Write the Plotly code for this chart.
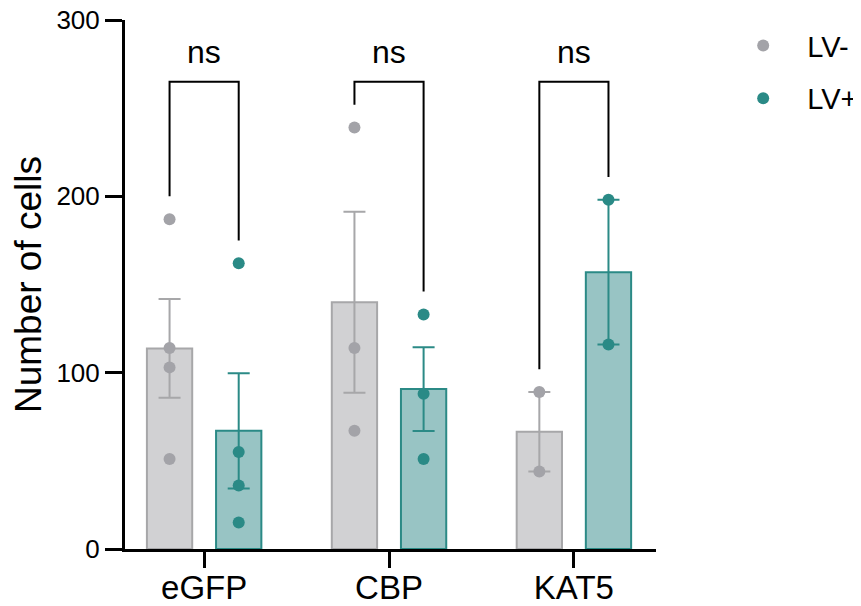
import numpy as np
import plotly.graph_objects as go

categories = ["eGFP", "CBP", "KAT5"]
series_names = ["LV-", "LV+"]
lv_minus = [[187, 114, 103, 51], [239, 114, 67], [89, 44]]
lv_plus = [[162, 55, 36, 15], [133, 88, 51], [198, 116]]
y_ticks = [0, 100, 200, 300]
sig_labels = ["ns", "ns", "ns"]

FONT = "Liberation Sans, Arial, Helvetica, sans-serif"
styles = [
    dict(fill="#d1d1d3", line="#a7a7a9", dot="#a3a3a8"),
    dict(fill="#98c4c4", line="#2b8a86", dot="#2a8a86"),
]
offsets = [-0.187, 0.187]
bar_w = 0.245

fig = go.Figure()
idx = np.arange(len(categories))
for s, (name, data) in enumerate(zip(series_names, [lv_minus, lv_plus])):
    means = [np.mean(v) for v in data]
    sems = [np.std(v, ddof=1) / np.sqrt(len(v)) for v in data]
    st = styles[s]
    fig.add_trace(go.Bar(
        x=idx + offsets[s], y=means, width=bar_w,
        marker=dict(color=st["fill"], line=dict(color=st["line"], width=2)),
        error_y=dict(type="data", array=sems, visible=True, color=st["line"], thickness=2, width=11),
        showlegend=False, hoverinfo="skip",
    ))
for s, (name, data) in enumerate(zip(series_names, [lv_minus, lv_plus])):
    xs, ys = [], []
    for i, vals in enumerate(data):
        for v in vals:
            xs.append(i + offsets[s])
            ys.append(v)
    fig.add_trace(go.Scatter(
        x=xs, y=ys, mode="markers", name=name, legendgroup=name,
        marker=dict(color=styles[s]["dot"], size=12, line=dict(width=0)),
    ))

# significance brackets
top = 265
for i in range(len(categories)):
    yl = max(lv_minus[i]) + 13
    yr = max(lv_plus[i]) + 13
    xl, xr = i + offsets[0], i + offsets[1]
    fig.add_trace(go.Scatter(
        x=[xl, xl, xr, xr], y=[yl, top, top, yr], mode="lines",
        line=dict(color="black", width=2), showlegend=False, hoverinfo="skip",
    ))
    fig.add_annotation(x=i, y=282, text=sig_labels[i], showarrow=False,
                       font=dict(size=32, color="black", family=FONT))

fig.update_layout(
    width=861, height=606,
    margin=dict(l=117, r=213, t=12, b=65, autoexpand=False),
    plot_bgcolor="white", paper_bgcolor="white",
    barmode="overlay",
    font=dict(family=FONT, color="black"),
    showlegend=True,
    legend=dict(
        xref="container", yref="container", x=0.826, y=0.98, xanchor="left", yanchor="top",
        font=dict(size=29, family=FONT), itemwidth=78, tracegroupgap=12,
        bgcolor="rgba(0,0,0,0)",
    ),
    xaxis=dict(
        range=[-0.428, 2.444], tickvals=list(idx), ticktext=categories,
        showline=True, linecolor="black", linewidth=3,
        ticks="outside", ticklen=16, tickwidth=3, tickcolor="black",
        tickfont=dict(size=33, family=FONT), showgrid=False, zeroline=False,
        ticklabelstandoff=-9, ticklabeloverflow="allow",
    ),
    yaxis=dict(
        range=[0, 300], tickvals=y_ticks,
        showline=True, linecolor="black", linewidth=3,
        ticks="outside", ticklen=17, tickwidth=3, tickcolor="black",
        tickfont=dict(size=26, family=FONT), showgrid=False, zeroline=False,
        ticklabeloverflow="allow",
        title=dict(text="Number of cells", font=dict(size=37, family=FONT), standoff=12),
    ),
)

fig.write_html("out.html")
